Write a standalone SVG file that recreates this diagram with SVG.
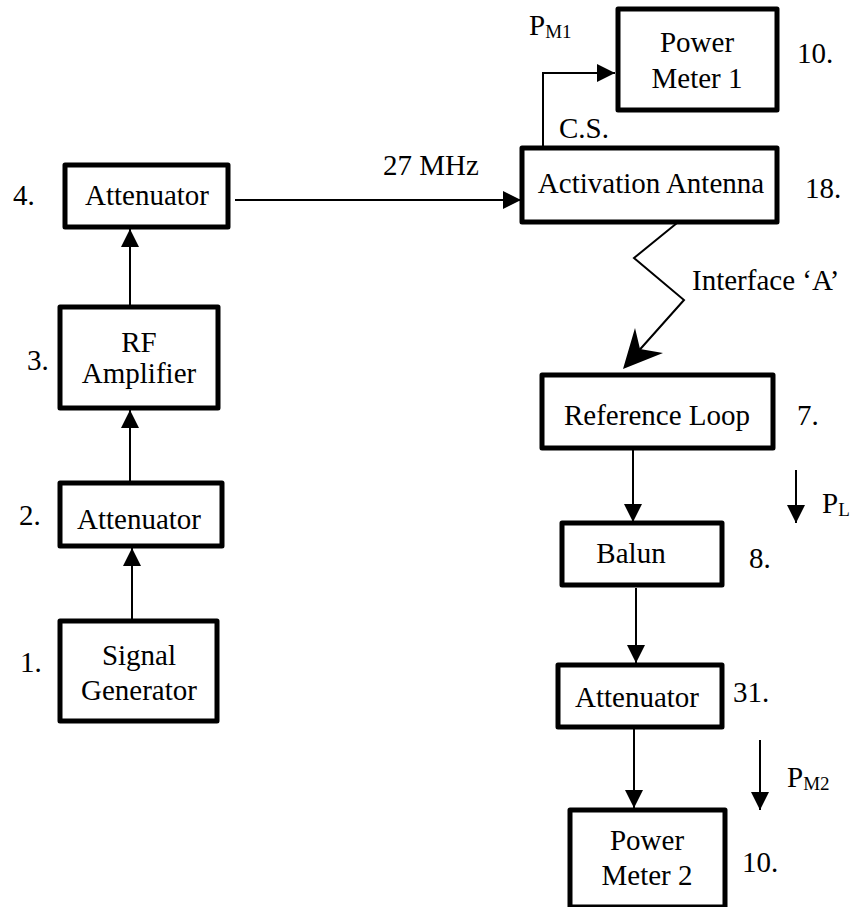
<svg xmlns="http://www.w3.org/2000/svg" width="853" height="907" viewBox="0 0 853 907">
<defs>
<style>
.box{fill:#fff;stroke:#000;stroke-width:5;stroke-linejoin:round}
.t{font-family:"Liberation Serif","Times New Roman",serif;font-size:29px;fill:#000}
.m{text-anchor:middle}
.sub{font-size:19px}
.ln{fill:none;stroke:#000;stroke-width:2}
</style>
<marker id="ah" viewBox="0 0 18 18" refX="18" refY="9" markerWidth="18" markerHeight="18" markerUnits="userSpaceOnUse" orient="auto">
<path d="M0,0 L18,9 L0,18 Z" fill="#000"/>
</marker>
</defs>
<rect width="853" height="907" fill="#fff"/>

<g id="connectors">
<line class="ln" x1="132" y1="621" x2="132" y2="548" marker-end="url(#ah)"/>
<line class="ln" x1="130" y1="483" x2="130" y2="410" marker-end="url(#ah)"/>
<line class="ln" x1="130" y1="307" x2="130" y2="229" marker-end="url(#ah)"/>
<line class="ln" x1="235" y1="200" x2="521" y2="200" marker-end="url(#ah)"/>
<polyline class="ln" points="543,148 543,73 615,73" marker-end="url(#ah)"/>
<polyline class="ln" points="677,223 634,258 684,300 635,355"/>
<path d="M623,369 L635,328 L640,349 L663,353 Z" fill="#000"/>
<line class="ln" x1="633" y1="448" x2="633" y2="522" marker-end="url(#ah)"/>
<line class="ln" x1="636" y1="588" x2="636" y2="663" marker-end="url(#ah)"/>
<line class="ln" x1="634" y1="729" x2="634" y2="808" marker-end="url(#ah)"/>
<line class="ln" x1="796" y1="470" x2="796" y2="523" marker-end="url(#ah)"/>
<line class="ln" x1="760" y1="740" x2="760" y2="810" marker-end="url(#ah)"/>
</g>

<g id="signal-generator">
<rect class="box" x="60" y="621" width="157" height="100"/>
<text class="t m" x="139" y="665">Signal</text>
<text class="t m" x="139" y="700">Generator</text>
<text class="t" x="20" y="672">1.</text>
</g>

<g id="attenuator-2">
<rect class="box" x="60" y="483" width="162" height="63"/>
<text class="t m" x="139" y="529">Attenuator</text>
<text class="t" x="19" y="525">2.</text>
</g>

<g id="rf-amplifier">
<rect class="box" x="60" y="307" width="158" height="101"/>
<text class="t m" x="139" y="352">RF</text>
<text class="t m" x="139" y="383">Amplifier</text>
<text class="t" x="27" y="370">3.</text>
</g>

<g id="attenuator-4">
<rect class="box" x="65" y="165" width="163" height="62"/>
<text class="t m" x="147" y="205">Attenuator</text>
<text class="t" x="13" y="205">4.</text>
</g>

<g id="label-27mhz">
<text class="t" x="383" y="175">27 MHz</text>
</g>

<g id="activation-antenna">
<rect class="box" x="522" y="148" width="255" height="74"/>
<text class="t m" x="651" y="193">Activation Antenna</text>
<text class="t" x="805" y="198">18.</text>
<text class="t" x="559" y="138">C.S.</text>
</g>

<g id="power-meter-1">
<rect class="box" x="618" y="9" width="159" height="101"/>
<text class="t m" x="697" y="52">Power</text>
<text class="t m" x="697" y="88">Meter 1</text>
<text class="t" x="797" y="63">10.</text>
<text class="t" x="529" y="35">P<tspan class="sub" dy="3">M1</tspan></text>
</g>

<g id="interface-a">
<text class="t" x="692" y="290">Interface ‘A’</text>
</g>

<g id="reference-loop">
<rect class="box" x="542" y="375" width="231" height="73"/>
<text class="t m" x="657" y="425">Reference Loop</text>
<text class="t" x="797" y="425">7.</text>
</g>

<g id="label-pl">
<text class="t" x="822" y="513">P<tspan class="sub" dy="3">L</tspan></text>
</g>

<g id="balun">
<rect class="box" x="562" y="523" width="160" height="62"/>
<text class="t m" x="631" y="563">Balun</text>
<text class="t" x="749" y="568">8.</text>
</g>

<g id="attenuator-31">
<rect class="box" x="558" y="665" width="164" height="62"/>
<text class="t m" x="637" y="707">Attenuator</text>
<text class="t" x="733" y="702">31.</text>
</g>

<g id="label-pm2">
<text class="t" x="787" y="787">P<tspan class="sub" dy="3">M2</tspan></text>
</g>

<g id="power-meter-2">
<rect class="box" x="570" y="810" width="155" height="97"/>
<text class="t m" x="647" y="850">Power</text>
<text class="t m" x="647" y="885">Meter 2</text>
<text class="t" x="742" y="872">10.</text>
</g>
</svg>
